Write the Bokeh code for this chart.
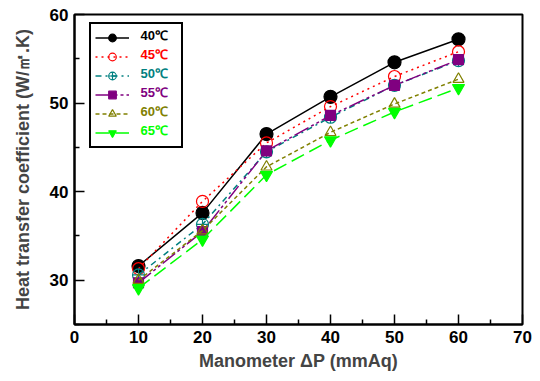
from bokeh.plotting import figure
from bokeh.models import Legend, LegendItem, Range1d, FixedTicker, Label
from bokeh.embed import file_html
from bokeh.resources import INLINE

x = [10, 20, 30, 40, 50, 60]
t40 = [31.6, 37.6, 46.5, 50.7, 54.6, 57.2]
t45 = [31.3, 38.9, 45.5, 49.6, 53.0, 55.8]
t50 = [30.6, 36.3, 44.5, 48.4, 52.0, 54.8]
t55 = [29.7, 35.5, 44.6, 48.6, 52.0, 54.9]
t60 = [30.0, 35.6, 42.8, 46.7, 49.9, 52.7]
t65 = [29.1, 34.6, 41.9, 45.8, 49.0, 51.7]
labels = ["40℃", "45℃", "50℃", "55℃", "60℃", "65℃"]

FONT = "Liberation Sans"

p = figure(width=532, height=373, output_backend="svg", toolbar_location=None,
           x_range=Range1d(0, 70), y_range=Range1d(25, 60),
           min_border_left=74, min_border_right=10, min_border_top=14, min_border_bottom=46)
p.grid.visible = False
p.outline_line_color = "black"
p.outline_line_width = 2
p.background_fill_color = "white"

p.xaxis.ticker = FixedTicker(ticks=[0, 10, 20, 30, 40, 50, 60, 70],
                             minor_ticks=[5, 15, 25, 35, 45, 55, 65])
p.yaxis.ticker = FixedTicker(ticks=[30, 40, 50, 60], minor_ticks=[25, 35, 45, 55])
for ax in (p.xaxis[0], p.yaxis[0]):
    ax.axis_line_width = 2
    ax.major_tick_in = 10
    ax.major_tick_out = 0
    ax.minor_tick_in = 5
    ax.minor_tick_out = 0
    ax.major_tick_line_width = 1.5
    ax.minor_tick_line_width = 1.5
    ax.major_label_text_font = FONT
    ax.major_label_text_font_style = "bold"
    ax.major_label_text_font_size = "17px"
    ax.major_label_text_color = "black"
    ax.axis_label_text_font = FONT
    ax.axis_label_text_font_style = "bold"
    ax.axis_label_text_font_size = "18px"
    ax.major_label_standoff = 6

p.xaxis.axis_label = "Manometer ΔP (mmAq)"
p.yaxis.axis_label = "Heat transfer coefficient (W/㎡.K)"
p.xaxis.axis_label_standoff = 5
p.yaxis.axis_label_standoff = 14

specs = [
    (t40, "black", "solid", "circle", "black", 13),
    (t45, "red", "dotted", "circle", None, 12),
    (t50, "#008080", "dashdot", "circle_cross", None, 12),
    (t55, "#800080", "16 3 3 3 3 3", "square", "#800080", 10),
    (t60, "#808000", "4 3", "triangle", None, 11),
    (t65, "#00FF00", "14 6", "inverted_triangle", "#00FF00", 12),
]

renderers = []
for ys, col, dash, mk, fill, sz in specs:
    l = p.line(x, ys, line_color=col, line_width=1.5, line_dash=dash)
    s = p.scatter(x, ys, marker=mk, size=sz, line_color=col, line_width=1.2,
                  fill_color=fill if fill else "white", fill_alpha=1.0 if fill else 0.0)
    renderers.append([l, s])

legend = Legend(items=[LegendItem(label=lab + "  ", renderers=r) for lab, r in zip(labels, renderers)],
                padding=4, spacing=0, glyph_height=19, label_height=19, glyph_width=34,
                label_standoff=13, label_text_font=FONT, label_text_font_style="bold",
                label_text_font_size="13px", label_text_alpha=0.0, margin=0,
                location=(15, 176), border_line_color="black", border_line_width=2,
                border_line_alpha=1.0, background_fill_alpha=0.0)
p.add_layout(legend, "center")

# coloured legend texts (the legend's own labels are hidden)
for i, (lab, sp) in enumerate(zip(labels, specs)):
    p.add_layout(Label(x=66, y=289 - 19 * i, x_units="screen", y_units="screen",
                       text=lab, text_color=sp[1], text_font=FONT, text_font_style="bold",
                       text_font_size="13px", text_baseline="middle", text_align="left"))

open("out.html", "w").write(file_html(p, INLINE))
